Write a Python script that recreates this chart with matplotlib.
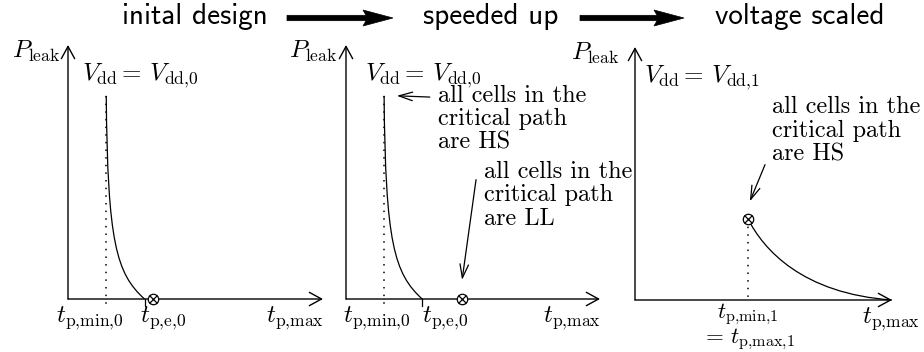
import matplotlib
matplotlib.use("Agg")
import matplotlib.pyplot as plt
from matplotlib.path import Path
from matplotlib.patches import PathPatch, Polygon

plt.rcParams["mathtext.fontset"] = "cm"

W, H = 924, 352
fig = plt.figure(figsize=(W / 100, H / 100), dpi=100)

# ---- stage data -----------------------------------------------------------
stage_titles = ["inital design", "speeded up", "voltage scaled"]
vdd_labels = [r"$V_{\mathrm{dd}} =\, V_{\mathrm{dd{,}0}}$",
              r"$V_{\mathrm{dd}} =\, V_{\mathrm{dd{,}0}}$",
              r"$V_{\mathrm{dd}} =\, V_{\mathrm{dd{,}1}}$"]
t_min = [1.5, 1.5, 4.4]          # fastest achievable delay per stage
t_e = [3.0, 3.0]                 # delay where leakage reaches zero (stages 1, 2)
otimes_x = [3.35, 4.55, 4.4]     # operating point of each stage
otimes_y = [0.0, 0.0, 3.2]

# leakage-vs-delay curves as cubic Bezier control points
fast_curve_x = [1.5, 1.55, 1.9, 3.0]
fast_curve_y = [8.0, 2.2, 1.0, 0.0]
scaled_curve_x = [4.4, 5.0, 6.5, 10.0]
scaled_curve_y = [3.2, 2.0, 0.25, 0.0]

# ---- layout (pixel boxes: left, top, right, bottom) -----------------------
boxes = [(68, 45, 323, 299), (346, 45, 600, 299), (635, 47, 892, 300)]

FS = 18
serif_kw = dict(family="cmr10", fontsize=17.5)
T_MIN0 = r"$t_{\mathrm{p{,}min{,}0}}$"
T_E0 = r"$t_{\mathrm{p{,}e{,}0}}$"
T_MAX = r"$t_{\mathrm{p{,}max}}$"


def px_axes(left, top, right, bottom):
    return fig.add_axes([left / W, 1 - bottom / H,
                         (right - left) / W, (bottom - top) / H])


def bezier(ax, xs, ys):
    verts = list(zip(xs, ys))
    codes = [Path.MOVETO, Path.CURVE4, Path.CURVE4, Path.CURVE4]
    ax.add_patch(PathPatch(Path(verts, codes), fc="none", ec="black",
                           lw=0.9, clip_on=False))


def otimes(ax, x, y):
    ax.plot([x], [y], marker="o", ms=7.5, mfc="white", mec="black",
            mew=0.9, clip_on=False, zorder=5)
    ax.plot([x], [y], marker="x", ms=5.2, mec="black", mew=0.9,
            clip_on=False, zorder=6)


def note_arrow(ax, start, end):
    ax.annotate("", xy=end, xytext=start,
                arrowprops=dict(arrowstyle="->,head_length=0.7,head_width=0.22",
                                lw=0.9, color="black", shrinkA=0, shrinkB=0,
                                mutation_scale=14))


axes = []
for i, b in enumerate(boxes):
    ax = px_axes(*b)
    ax.set_xlim(0, 10)
    ax.set_ylim(0, 10)
    ax.axis("off")
    for end in [(10, 0), (0, 10)]:
        ax.annotate("", xy=end, xytext=(0, 0),
                    arrowprops=dict(arrowstyle="->,head_length=0.55,head_width=0.3",
                                    lw=1.0, color="black", shrinkA=0, shrinkB=0,
                                    mutation_scale=16))
    axes.append(ax)

# P_leak labels
for ax, xoff in zip(axes, [-0.3, -0.35, -0.6]):
    ax.text(xoff, 9.5, r"$P_{\mathrm{leak}}$", fontsize=FS, ha="right",
            va="baseline")

# supply voltage labels
for ax, lab, x0 in zip(axes, vdd_labels, [0.55, 0.75, 0.35]):
    ax.text(x0, 8.62, lab, fontsize=FS, ha="left", va="baseline")

# stages 1 and 2: nominal supply
for k in range(2):
    ax = axes[k]
    bezier(ax, fast_curve_x, fast_curve_y)
    ax.plot([t_min[k], t_min[k]], [fast_curve_y[0], -0.3], ls=(0, (1, 4)),
            lw=1.1, color="black", clip_on=False)
    ax.plot([t_e[k], t_e[k]], [0, -0.28], lw=0.9, color="black",
            clip_on=False)
    otimes(ax, otimes_x[k], otimes_y[k])
    ax.text(10.05, -0.9, T_MAX, fontsize=FS, ha="right", va="baseline")

axes[0].text(0.86, -0.9, T_MIN0, fontsize=FS, ha="center", va="baseline")
axes[0].text(2.82, -0.9, T_E0, fontsize=FS, ha="left", va="baseline")
axes[1].text(1.22, -0.9, T_MIN0, fontsize=FS, ha="center", va="baseline")
axes[1].text(2.99, -0.9, T_E0, fontsize=FS, ha="left", va="baseline")

note_arrow(axes[1], (3.3, 7.95), (2.0, 8.0))
axes[1].text(3.62, 7.09, "all cells in the\ncritical path\nare HS", ha="left",
             va="center", linespacing=1.07, **serif_kw)
note_arrow(axes[1], (5.12, 4.7), (4.57, 0.75))
axes[1].text(5.43, 4.09, "all cells in the\ncritical path\nare LL", ha="left",
             va="center", linespacing=1.07, **serif_kw)

# stage 3: scaled supply
ax = axes[2]
bezier(ax, scaled_curve_x, scaled_curve_y)
ax.plot([t_min[2], t_min[2]], [otimes_y[2], 0], ls=(0, (1, 4)), lw=1.1,
        color="black", clip_on=False)
otimes(ax, otimes_x[2], otimes_y[2])
note_arrow(ax, (5.06, 5.35), (4.47, 3.9))
ax.text(5.33, 6.69, "all cells in the\ncritical path\nare HS", ha="left",
        va="center", linespacing=1.07, **serif_kw)
ax.text(4.38, -0.7, r"$t_{\mathrm{p{,}min{,}1}}$", fontsize=16.5,
        ha="center", va="baseline")
ax.text(4.38, -1.7, r"$=\, t_{\mathrm{p{,}max{,}1}}$", fontsize=16.5,
        ha="center", va="baseline")
ax.text(11.1, -0.9, T_MAX, fontsize=FS, ha="right", va="baseline")

# ---- stage titles and transition arrows -----------------------------------
top = fig.add_axes([0, 0, 1, 1])
top.set_xlim(0, W)
top.set_ylim(H, 0)
top.axis("off")
top.patch.set_alpha(0)

title_x = [195, 491, 800]
for x, t in zip(title_x, stage_titles):
    top.text(x, 17, t, family="cmss10", fontsize=21, ha="center",
             va="center")

arrow_spans = [(287, 393), (580, 684)]
for x0, x1 in arrow_spans:
    y = 18
    hl, hw, notch, sw = 30, 8, 9, 2.7
    shape = [(x0, y - sw), (x1 - hl + notch * (sw / hw), y - sw),
             (x1 - hl, y - hw), (x1, y), (x1 - hl, y + hw),
             (x1 - hl + notch * (sw / hw), y + sw), (x0, y + sw)]
    top.add_patch(Polygon(shape, closed=True, fc="black", ec="black", lw=0.5))

fig.savefig("out.png", dpi=100)
